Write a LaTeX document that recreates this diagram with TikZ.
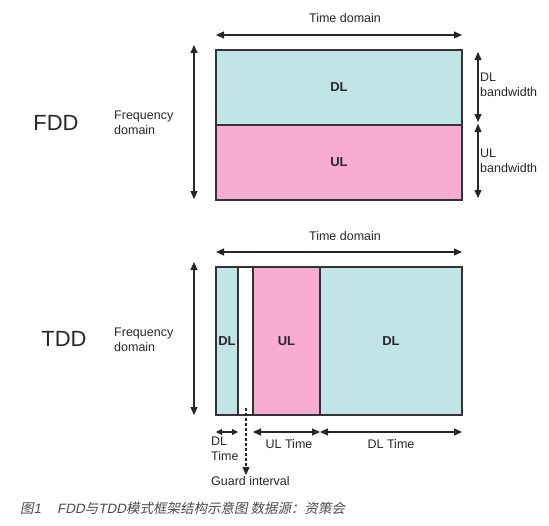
\documentclass[tikz,border=0pt]{standalone}
\usepackage{fontspec}
\setmainfont{Liberation Sans}
\newfontfamily\cjk[FakeSlant=0.2]{Noto Sans CJK SC}
\newfontfamily\latsl[FakeSlant=0.2]{Liberation Sans}
\usetikzlibrary{arrows.meta}
\definecolor{dlc}{RGB}{193,228,230}
\definecolor{ulc}{RGB}{249,172,210}
\definecolor{txt}{RGB}{40,40,40}
\tikzset{
  blk/.style={draw=black!80, line width=1.1pt, inner sep=0pt, outer sep=0pt},
  dim/.style={line width=1.1pt, black!85, {Triangle[length=8pt,width=7pt]}-{Triangle[length=8pt,width=7pt]}},
  lbl/.style={font=\fontsize{12.5}{15}\selectfont, text=txt, align=left, inner sep=0pt},
  big/.style={font=\fontsize{22}{24}\selectfont, text=txt, inner sep=0pt},
  bold/.style={font=\fontsize{13}{15}\selectfont\bfseries, text=txt, inner sep=0pt},
}
\begin{document}
\begin{tikzpicture}[x=1pt,y=-1pt]
\useasboundingbox[fill=white] (0,0) rectangle (549,525);
% ---------- FDD ----------
\node[blk, fill=dlc, minimum width=246pt, minimum height=75pt, anchor=north west] (fdl) at (216,50) {};
\node[blk, fill=ulc, minimum width=246pt, minimum height=75pt, anchor=north west] (ful) at (216,125) {};
\node[bold] at (fdl.center) {DL};
\node[bold] at (ful.center) {UL};
\coordinate (ta1) at (216,35); \coordinate (ta2) at (462,35);
\draw[dim] (ta1) -- (ta2);
\node[lbl] (td1) at (345,18) {Time domain};
\coordinate (fa1) at (194,45); \coordinate (fa2) at (194,199);
\draw[dim] (fa1) -- (fa2);
\node[lbl, anchor=west] (fd1) at (114,123) {Frequency\\domain};
\node[big] (fdd) at (56,123) {FDD};
\coordinate (b1) at (478,52); \coordinate (b2) at (478,122);
\coordinate (b3) at (478,124); \coordinate (b4) at (478,198);
\draw[dim] (b1) -- (b2);
\draw[dim] (b3) -- (b4);
\node[lbl, anchor=west] (dlbw) at (480,85) {DL\\bandwidth};
\node[lbl, anchor=west] (ulbw) at (480,161) {UL\\bandwidth};
% ---------- TDD ----------
\node[blk, fill=dlc, minimum width=22pt, minimum height=148pt, anchor=north west] (t1) at (216,267) {};
\node[blk, fill=white, minimum width=15pt, minimum height=148pt, anchor=north west] (tg) at (238,267) {};
\node[blk, fill=ulc, minimum width=67pt, minimum height=148pt, anchor=north west] (t2) at (253,267) {};
\node[blk, fill=dlc, minimum width=142pt, minimum height=148pt, anchor=north west] (t3) at (320,267) {};
\node[bold] at (t1.center) {DL};
\node[bold] at (t2.center) {UL};
\node[bold] at (t3.center) {DL};
\coordinate (tb1) at (216,252); \coordinate (tb2) at (462,252);
\draw[dim] (tb1) -- (tb2);
\node[lbl] (td2) at (345,236) {Time domain};
\coordinate (fb1) at (194,262); \coordinate (fb2) at (194,415);
\draw[dim] (fb1) -- (fb2);
\node[lbl, anchor=west] (fd2) at (114,340) {Frequency\\domain};
\node[big] (tdd) at (64,339) {TDD};
% time arrows
\coordinate (d1) at (216,432); \coordinate (d2) at (238,432);
\coordinate (u1) at (253,432); \coordinate (u2) at (320,432);
\coordinate (e1) at (320,432); \coordinate (e2) at (462,432);
\draw[dim, {Triangle[length=6pt,width=6pt]}-{Triangle[length=6pt,width=6pt]}] (d1) -- (d2);
\draw[dim] (u1) -- (u2);
\draw[dim] (e1) -- (e2);
\node[lbl, anchor=north west] (dlt) at (211,437) {DL\\Time};
\node[lbl] (ult) at (289,444) {UL Time};
\node[lbl] (dlt2) at (391,444) {DL Time};
% guard interval
\coordinate (g1) at (246,408);
\coordinate (g2) at (246,475);
\draw[line width=1.1pt, black!85, dash pattern=on 3pt off 2pt, -{Triangle[length=8pt,width=7pt]}] (g1) -- (g2);
\node[lbl, anchor=west] (gi) at (211,481) {Guard interval};
% caption
\node[anchor=west, inner sep=0pt, text=black!70, font=\cjk\fontsize{13.5}{15}\selectfont] (cap) at (20,508) {图{\latsl 1}\hspace{16pt}{\latsl FDD}与{\latsl TDD}模式框架结构示意图 数据源：资策会};
\end{tikzpicture}
\end{document}
